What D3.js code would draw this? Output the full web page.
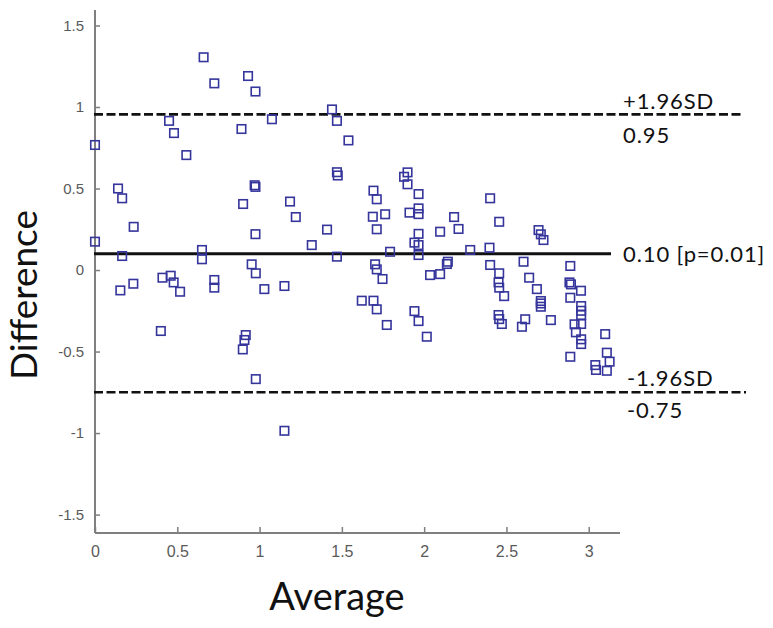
<!DOCTYPE html>
<html>
<head>
<meta charset="utf-8">
<script src="https://cdn.jsdelivr.net/npm/d3@7"></script>
<style>
  html, body { margin: 0; padding: 0; background: #fff; }
  svg { display: block; }
</style>
</head>
<body>
<svg id="chart" width="773" height="628"></svg>
<script>
// ---- data ----
const average = [
  0.66, 0.725, 0.93, 0.975, 0.45, 0.48, 0.555, 0.0, 0.89, 1.075,
  1.44, 1.47, 1.54, 0.97, 0.975, 1.47, 1.475, 0.14, 0.165, 0.90,
  1.185, 1.22, 0.235, 1.41, 0.975, 0.0, 1.317, 0.165, 0.65, 0.65,
  1.47, 0.952, 0.977, 0.41, 0.46, 0.478, 0.517, 0.233, 0.154, 0.725,
  0.725, 1.029, 1.151, 0.40, 0.916, 0.908, 0.898, 0.977, 1.151,
  1.899, 1.878, 1.899, 1.692, 1.712, 1.966, 2.401, 1.688, 1.763, 1.911,
  1.966, 1.966, 2.182, 2.456, 1.712, 1.966, 2.097, 2.209, 2.695, 2.709,
  2.725, 1.941, 1.966, 1.966, 1.793, 2.28, 2.397, 1.702, 1.712, 1.747,
  2.144, 2.138, 2.097, 2.036, 2.604, 2.401, 2.456, 2.452, 2.456, 2.486,
  2.638, 2.685, 2.709, 2.709, 2.709, 2.888, 2.883, 2.892, 2.953, 2.888,
  2.954, 2.954, 2.954, 2.914, 2.954, 2.922, 2.954, 2.954, 2.888, 3.10,
  3.11, 3.127, 3.04, 3.044, 3.11, 1.621, 1.692, 1.712, 1.773, 1.941,
  1.966, 2.016, 2.452, 2.456, 2.472, 2.614, 2.594, 2.77
];
const difference = [
  1.305, 1.145, 1.19, 1.095, 0.915, 0.84, 0.705, 0.767, 0.865, 0.925,
  0.985, 0.915, 0.795, 0.52, 0.51, 0.60, 0.58, 0.50, 0.44, 0.405,
  0.42, 0.325, 0.265, 0.248, 0.22, 0.174, 0.153, 0.086, 0.123, 0.066,
  0.082, 0.035, -0.02, -0.047, -0.035, -0.076, -0.133, -0.084, -0.125, -0.061,
  -0.108, -0.117, -0.098, -0.374, -0.399, -0.429, -0.487, -0.669, -0.986,
  0.599, 0.572, 0.526, 0.487, 0.434, 0.466, 0.44, 0.327, 0.342, 0.352,
  0.378, 0.343, 0.325, 0.296, 0.25, 0.222, 0.235, 0.252, 0.245, 0.219,
  0.184, 0.168, 0.153, 0.092, 0.112, 0.123, 0.137, 0.035, 0.004, -0.055,
  0.051, 0.037, -0.025, -0.031, 0.051, 0.031, -0.02, -0.076, -0.108, -0.16,
  -0.047, -0.117, -0.19, -0.205, -0.225, 0.025, -0.076, -0.088, -0.127, -0.17,
  -0.221, -0.25, -0.276, -0.333, -0.331, -0.382, -0.425, -0.454, -0.532, -0.393,
  -0.507, -0.562, -0.583, -0.613, -0.618, -0.188, -0.188, -0.241, -0.337, -0.252,
  -0.313, -0.409, -0.276, -0.301, -0.331, -0.302, -0.348, -0.307
];
const xTicks = [0, 0.5, 1, 1.5, 2, 2.5, 3];
const yTicks = [-1.5, -1, -0.5, 0, 0.5, 1, 1.5];
const meanDiff = 0.10;
const upperLoA = 0.955;
const lowerLoA = -0.75;
const upperLabels = ["+1.96SD", "0.95"];
const meanLabel = "0.10 [p=0.01]";
const lowerLabels = ["-1.96SD", "-0.75"];

// ---- layout ----
const svg = d3.select("#chart");
const x = d3.scaleLinear().domain([0, 3.19]).range([95, 620]);
const y = d3.scaleLinear().domain([-1.613, 1.595]).range([533, 10]);

const axisColor = "#7f7f7f";
const tickTextColor = "#5a5a5a";
const fmt = d => String(d);

// axes
const xAxis = svg.append("g").attr("transform", `translate(0,${y.range()[0]})`)
  .call(d3.axisBottom(x).tickValues(xTicks).tickSizeInner(-6).tickSizeOuter(0)
    .tickPadding(13).tickFormat(fmt));
const yAxis = svg.append("g").attr("transform", `translate(${x.range()[0]},0)`)
  .call(d3.axisLeft(y).tickValues(yTicks).tickSizeInner(-5).tickSizeOuter(0)
    .tickPadding(11).tickFormat(fmt));
[xAxis, yAxis].forEach(g => {
  g.select(".domain").attr("stroke", axisColor).attr("stroke-width", 2);
  g.selectAll(".tick line").attr("stroke", axisColor).attr("stroke-width", 1.5);
  g.selectAll(".tick text").attr("fill", tickTextColor)
    .attr("font-family", "'Liberation Sans', Arial, sans-serif");
});
xAxis.selectAll(".tick text").attr("font-size", 16);
yAxis.selectAll(".tick text").attr("font-size", 15);
yAxis.select(".domain").attr("d", `M0,${y.range()[1]}V${y.range()[0]}`);
xAxis.select(".domain").attr("d", `M${x.range()[0]},0H${x.range()[1]}`);

// reference lines
const x0 = x.range()[0] - 1;
svg.append("line").attr("x1", x0).attr("x2", 742)
  .attr("y1", y(upperLoA)).attr("y2", y(upperLoA))
  .attr("stroke", "#111").attr("stroke-width", 2.6).attr("stroke-dasharray", "9,3.5");
svg.append("line").attr("x1", x0).attr("x2", 746)
  .attr("y1", y(lowerLoA)).attr("y2", y(lowerLoA))
  .attr("stroke", "#111").attr("stroke-width", 2.6).attr("stroke-dasharray", "9,3.5");
svg.append("line").attr("x1", x0).attr("x2", 611)
  .attr("y1", y(meanDiff)).attr("y2", y(meanDiff))
  .attr("stroke", "#111").attr("stroke-width", 2.8);

// points
const s = 8.5;
svg.append("g").selectAll("rect").data(average.map((a, i) => [a, difference[i]]))
  .join("rect")
  .attr("x", d => x(d[0]) - s / 2).attr("y", d => y(d[1]) - s / 2)
  .attr("width", s).attr("height", s)
  .attr("fill", "none").attr("stroke", "#35359c").attr("stroke-width", 1.6);

// labels
const labFont = "Lato, 'Open Sans', sans-serif";
const lab = (t, lx, ly) => svg.append("text").attr("x", lx).attr("y", ly).text(t)
  .attr("font-family", labFont).attr("font-size", 22).attr("letter-spacing", 0.9)
  .attr("fill", "#111");
lab(upperLabels[0], 623, 109);
lab(upperLabels[1], 623, 143);
lab(meanLabel, 623, 262);
lab(lowerLabels[0], 627, 386);
lab(lowerLabels[1], 627, 418);

// axis titles
svg.append("text").attr("x", 337).attr("y", 610).attr("text-anchor", "middle")
  .attr("font-family", labFont).attr("font-size", 38).attr("fill", "#111").text("Average");
svg.append("text").attr("transform", "translate(37,295) rotate(-90)").attr("text-anchor", "middle")
  .attr("font-family", labFont).attr("font-size", 37).attr("fill", "#111").text("Difference");
</script>
</body>
</html>
